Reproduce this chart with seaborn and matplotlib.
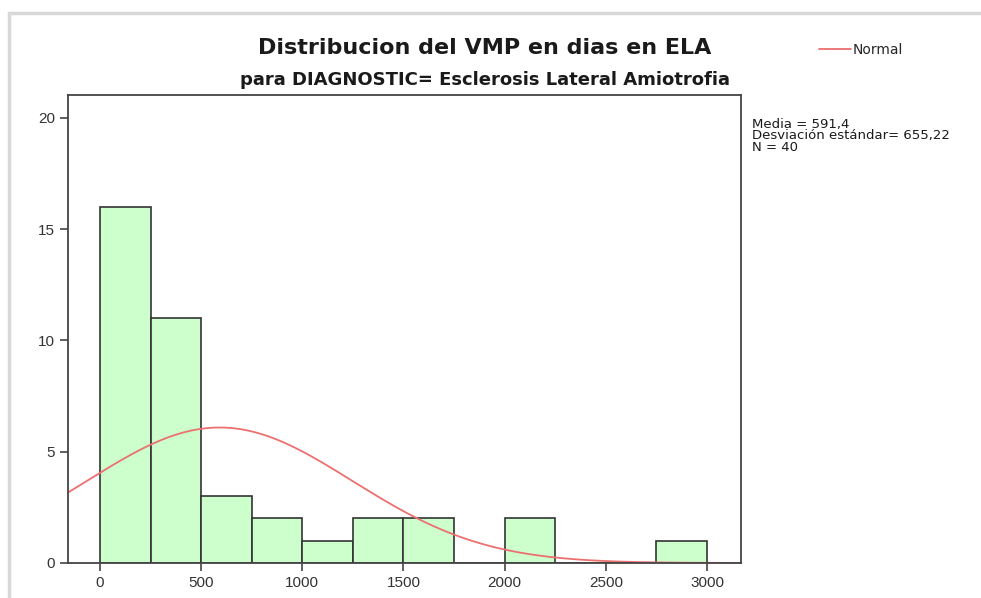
import numpy as np
import pandas as pd
import matplotlib
matplotlib.use("Agg")
import matplotlib.pyplot as plt
import seaborn as sns
from matplotlib.patches import Rectangle

# Data
bin_edges = [0, 250, 500, 750, 1000, 1250, 1500, 1750, 2000, 2250, 2500, 2750, 3000]
counts = [16, 11, 3, 2, 1, 2, 2, 0, 2, 0, 0, 1]
media = 591.4
desv = 655.22
n_total = 40
x_ticks = [0, 500, 1000, 1500, 2000, 2500, 3000]
y_ticks = [0, 5, 10, 15, 20]

sns.set_theme(style="white")
plt.rcParams['font.family'] = ['Liberation Sans', 'DejaVu Sans']

fig = plt.figure(figsize=(9.81, 5.98), dpi=100)
ax = fig.add_axes([68/981, 1-563/598, (741-68)/981, (563-95)/598])

centers = [(bin_edges[i] + bin_edges[i+1]) / 2 for i in range(len(counts))]
df = pd.DataFrame({"x": centers, "w": counts})
sns.histplot(data=df, x="x", weights="w", bins=bin_edges, ax=ax,
             color="#ccffcc", edgecolor="#333333", linewidth=1.2, alpha=1)

xs = np.linspace(-160, 3170, 400)
binw = bin_edges[1] - bin_edges[0]
ys = n_total * binw / (desv * np.sqrt(2 * np.pi)) * np.exp(-0.5 * ((xs - media) / desv) ** 2)
sns.lineplot(x=xs, y=ys, ax=ax, color="#ec7070", linewidth=1.3, label="Normal")

ax.set_xlim(-158, 3168)
ax.set_ylim(0, 21.03)
ax.set_xticks(x_ticks)
ax.set_yticks(y_ticks)
ax.set_xlabel("")
ax.set_ylabel("")
for s in ax.spines.values():
    s.set_color("#444444")
    s.set_linewidth(1.3)
ax.tick_params(axis="both", direction="out", length=6, width=1.2, color="#444444",
               labelsize=11, labelcolor="#333333", bottom=True, left=True)

leg = ax.legend(loc="upper left", bbox_to_anchor=(812/981, 1-36/598), bbox_transform=fig.transFigure,
                frameon=False, handlelength=2.3, handletextpad=0.15, borderpad=0,
                prop={"family": "DejaVu Sans", "size": 10})

fig.text(485/981, 1-48/598, "Distribucion del VMP en dias en ELA", ha="center", va="center",
         fontsize=16, fontweight="bold", family="DejaVu Sans", color="#1a1a1a")
fig.text(485/981, 1-80/598, "para DIAGNOSTIC= Esclerosis Lateral Amiotrofia", ha="center", va="center",
         fontsize=13, fontweight="bold", family="DejaVu Sans", color="#1a1a1a")
fig.text(752/981, 1-118/598, "Media = 591,4\nDesviación estándar= 655,22\nN = 40", ha="left", va="top",
         fontsize=9.5, family=["DejaVu Sans"], color="#1a1a1a", linespacing=0.84)

# frame border of the screenshot
fig.patches.append(Rectangle((9/981, -0.02), 1.1, 1-13/598 + 0.02, transform=fig.transFigure,
                             fill=False, edgecolor="#d8d8d8", linewidth=2.5))

fig.savefig("out.png", dpi=100)
